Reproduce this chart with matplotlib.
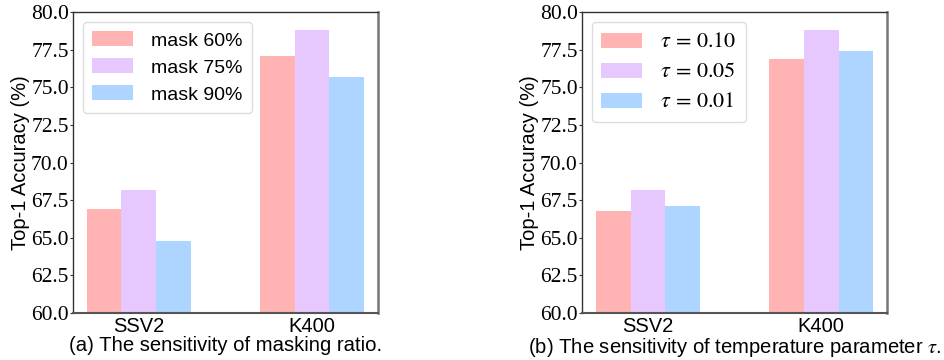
import matplotlib
matplotlib.use("Agg")
import matplotlib.pyplot as plt
import numpy as np

plt.rcParams['mathtext.fontset'] = 'stix'
plt.rcParams['font.family'] = 'serif'
plt.rcParams['font.serif'] = ['Liberation Serif', 'DejaVu Serif']

datasets = ['SSV2', 'K400']

mask_labels = ['mask 60%', 'mask 75%', 'mask 90%']
mask_acc = [[66.9, 77.1],
            [68.2, 78.8],
            [64.8, 75.7]]

tau_labels = [r'$\tau\,=\,0.10$', r'$\tau\,=\,0.05$', r'$\tau\,=\,0.01$']
tau_acc = [[66.8, 76.9],
           [68.2, 78.8],
           [67.1, 77.4]]

colors = ['#FFB3B3', '#E6C8FF', '#ADD5FF']
captions = ['(a) The sensitivity of masking ratio.',
            r'(b) The sensitivity of temperature parameter $\tau$.']

fig = plt.figure(figsize=(9.45, 3.6), dpi=100)
ax1 = fig.add_axes([0.0772, 0.1306, 0.3228, 0.836])
ax2 = fig.add_axes([0.6159, 0.1306, 0.3228, 0.836])

x = np.arange(len(datasets))
w = 0.2
yt = np.arange(60, 80.1, 2.5)
for ax, labels, vals, cap in [(ax1, mask_labels, mask_acc, captions[0]),
                              (ax2, tau_labels, tau_acc, captions[1])]:
    for i in range(3):
        ax.bar(x + (i - 1) * w, vals[i], w, color=colors[i], label=labels[i])
    ax.set_ylim(60, 80)
    ax.set_yticks(yt)
    ax.set_yticklabels([f'{v:.1f}' for v in yt])
    ax.set_xticks(x)
    ax.set_xticklabels(datasets)
    ax.tick_params(axis='y', length=2, pad=1, color='#333333', labelsize=15.5)
    ax.tick_params(axis='x', length=0, pad=3, labelsize=14.5,
                   labelfontfamily='Liberation Sans')
    for s in ax.spines.values():
        s.set_color('#333333')
        s.set_linewidth(1.0)
    ax.spines['right'].set_color('#777777')
    ax.spines['right'].set_linewidth(1.8)
    ax.spines['bottom'].set_color('#555555')
    ax.spines['bottom'].set_linewidth(1.5)
    ax.set_ylabel('Top-1 Accuracy (%)', family='Liberation Sans', fontsize=14.5, labelpad=1)
    ax.set_xlabel(cap, family='Liberation Sans', fontsize=14.6, labelpad=0)
    leg = ax.legend(loc='upper left', prop={'family': 'Liberation Sans', 'size': 14},
                    handlelength=2.1, handleheight=0.8, handletextpad=0.9,
                    labelspacing=0.45, borderpad=0.5, framealpha=1, edgecolor='#dddddd')
    if ax is ax2:
        for t in leg.get_texts():
            t.set_fontsize(16)

fig.savefig('out.png', dpi=100)
